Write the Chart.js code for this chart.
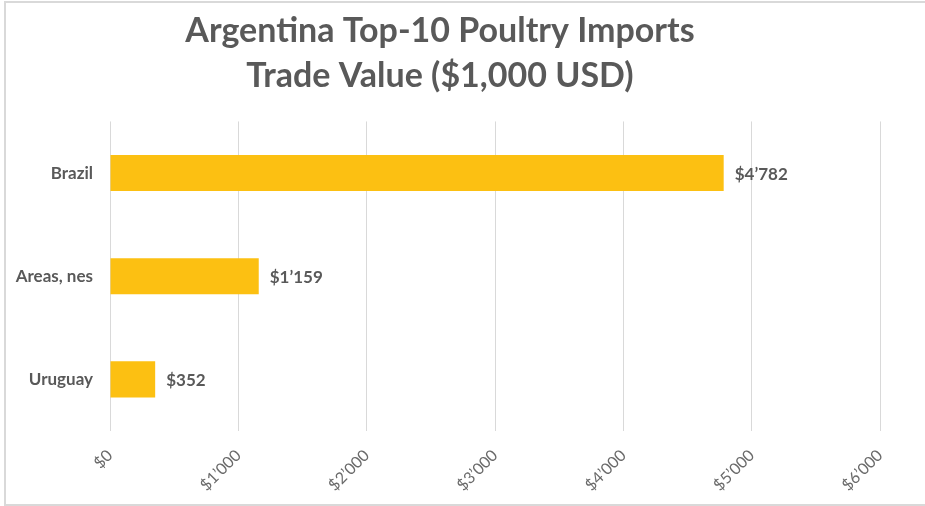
<!DOCTYPE html>
<html>
<head>
<meta charset="utf-8">
<script src="https://cdn.jsdelivr.net/npm/chart.js@4/dist/chart.umd.min.js"></script>
<style>
  html, body { margin: 0; padding: 0; background: #fff; overflow: hidden; }
  #wrap { position: relative; width: 925px; height: 506px; }
  #frame { position: absolute; left: 4px; top: 1px; width: 930px; height: 505px; border: 2px solid #d9d9d9; box-sizing: border-box; pointer-events: none; }
  canvas { position: absolute; left: 0; top: 0; }
</style>
</head>
<body>
<div id="wrap">
  <canvas id="c" width="925" height="506"></canvas>
  <div id="frame"></div>
</div>
<script>
const categories = ["Brazil", "Areas, nes", "Uruguay"];
const values = [4782, 1159, 352];
const tickValues = [0, 1000, 2000, 3000, 4000, 5000, 6000];
const titleLines = ["Argentina Top-10 Poultry Imports", "Trade Value ($1,000 USD)"];

const FONT = "Lato, 'Open Sans', sans-serif";
const TEXT = "#595959";

function fmt(v) {
  const s = Math.round(v).toString();
  return "$" + s.replace(/\B(?=(\d{3})+(?!\d))/g, "\u2019");
}

const valueLabels = {
  id: "valueLabels",
  afterDatasetsDraw(chart) {
    const ctx = chart.ctx;
    const meta = chart.getDatasetMeta(0);
    ctx.save();
    ctx.font = "bold 17px " + FONT;
    ctx.fillStyle = TEXT;
    ctx.textAlign = "left";
    ctx.textBaseline = "middle";
    meta.data.forEach((bar, i) => {
      ctx.fillText(fmt(values[i]), bar.x + 11, bar.y + 1);
    });
    ctx.restore();
  }
};

new Chart(document.getElementById("c"), {
  type: "bar",
  data: {
    labels: categories,
    datasets: [{
      data: values,
      backgroundColor: "#FCC012",
      borderWidth: 0,
      categoryPercentage: 1,
      barPercentage: 0.35
    }]
  },
  options: {
    indexAxis: "y",
    responsive: false,
    animation: false,
    layout: { padding: { left: 0, right: 45, top: 0, bottom: 0 } },
    plugins: {
      legend: { display: false },
      tooltip: { enabled: false },
      title: {
        display: true,
        text: titleLines,
        color: TEXT,
        font: { family: FONT, size: 34, weight: "bold", lineHeight: 1.33 },
        padding: { top: 8, bottom: 23 }
      }
    },
    scales: {
      x: {
        min: 0,
        max: 6000,
        afterBuildTicks(scale) { scale.ticks = tickValues.map(v => ({ value: v })); },
        afterFit(scale) { scale.height = 75; },
        grid: { color: "#d9d9d9", lineWidth: 1, drawTicks: false },
        border: { display: false },
        ticks: {
          minRotation: 45,
          maxRotation: 45,
          padding: 15,
          color: "#6a6a6a",
          font: { family: FONT, size: 16 },
          callback: (v) => fmt(v)
        }
      },
      y: {
        afterFit(scale) { scale.width = 110; },
        grid: { display: false, drawTicks: false },
        border: { display: false },
        ticks: {
          padding: 17,
          color: TEXT,
          font: { family: FONT, size: 17, weight: "bold" }
        }
      }
    }
  },
  plugins: [valueLabels]
});
</script>
</body>
</html>
